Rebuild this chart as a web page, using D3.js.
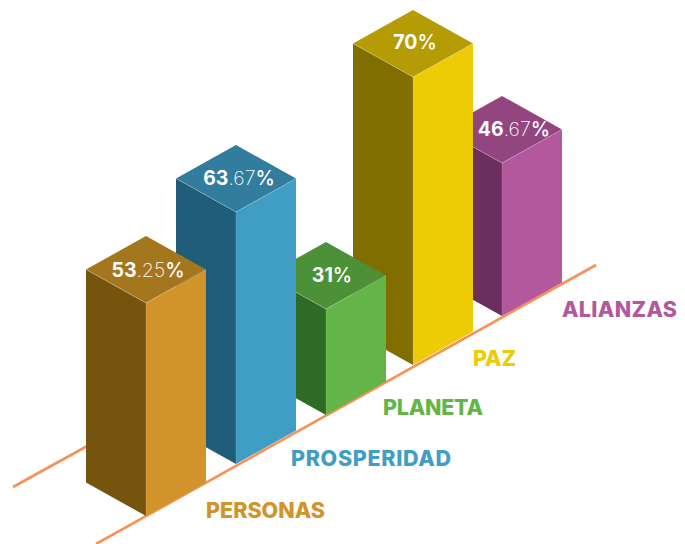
<!DOCTYPE html>
<html>
<head>
<meta charset="utf-8">
<script src="https://cdn.jsdelivr.net/npm/d3@7"></script>
<style>
  html, body { margin: 0; padding: 0; background: #fff; }
  svg { display: block; }
  text { font-family: Inter, sans-serif; }
</style>
</head>
<body>
<svg id="chart"></svg>
<script>
const categories = ["PERSONAS", "PROSPERIDAD", "PLANETA", "PAZ", "ALIANZAS"];
const values = [53.25, 63.67, 31, 70, 46.67];
const topColors = ["#a4761e", "#327c9e", "#4c9038", "#b59c05", "#93457f"];
const leftColors = ["#75540e", "#205d78", "#2e6b25", "#806e00", "#6b2e5e"];
const rightColors = ["#d1942b", "#409dc4", "#64b548", "#edcb07", "#b3589c"];

const width = 685, height = 544;
const halfW = 60, halfD = 33.5;

const svg = d3.select("#chart").attr("width", width).attr("height", height);

// the bars in the picture are not strictly proportional, so the scale is piecewise
const barHeight = d3.scaleLinear()
    .domain([31, 46.67, 53.25, 63.67, 70])
    .range([106, 153, 213, 252, 288]);
const cornerX = d3.scaleOrdinal(categories, [146, 236, 326, 413, 502]);
const cornerY = d3.scaleOrdinal(categories, [516, 464, 415, 365, 316]);
const labelX = d3.scaleOrdinal(categories, [206, 291, 383, 473, 562]);
const labelY = d3.scaleOrdinal(categories, [518, 466, 415, 366, 317]);
const labelW = d3.scaleOrdinal(categories, [119, 160, 100, 43, 115]);
const valueX = d3.scaleOrdinal(categories, [148, 239, 332, 415, 514]);
const valueY = d3.scaleOrdinal(categories, [277, 185, 282, 49, 136]);

const bars = categories.map((name, i) => ({
    name,
    value: values[i],
    top: topColors[i],
    left: leftColors[i],
    right: rightColors[i],
    x: cornerX(name),
    y: cornerY(name),
    h: barHeight(values[i])
}));

// Floor lines
const line = d3.line();
svg.selectAll(".floor")
    .data([[[13, 487], [176, 397]], [[96, 544], [596, 265]]])
    .enter()
    .append("path")
    .attr("class", "floor")
    .attr("d", d => line(d))
    .attr("fill", "none")
    .attr("stroke", "#f79158")
    .attr("stroke-width", 2.6);

const poly = pts => pts.map(p => p.join(",")).join(" ");

// Bars, back to front
const bar = svg.selectAll(".bar")
    .data(bars.slice().reverse())
    .enter()
    .append("g")
    .attr("class", "bar");

bar.append("polygon")
    .attr("points", d => poly([[d.x - halfW, d.y - halfD], [d.x, d.y], [d.x, d.y - d.h], [d.x - halfW, d.y - d.h - halfD]]))
    .attr("fill", d => d.left);

bar.append("polygon")
    .attr("points", d => poly([[d.x + halfW, d.y - halfD], [d.x, d.y], [d.x, d.y - d.h], [d.x + halfW, d.y - d.h - halfD]]))
    .attr("fill", d => d.right);

bar.append("polygon")
    .attr("points", d => poly([[d.x, d.y - d.h], [d.x + halfW, d.y - d.h - halfD], [d.x, d.y - d.h - 2 * halfD], [d.x - halfW, d.y - d.h - halfD]]))
    .attr("fill", d => d.top);

// Thin light edges around the top face
bar.append("path")
    .attr("d", d => line([[d.x - halfW, d.y - d.h - halfD], [d.x, d.y - d.h], [d.x + halfW, d.y - d.h - halfD]]))
    .attr("fill", "none")
    .attr("stroke", "rgba(255,255,255,0.35)")
    .attr("stroke-width", 0.7);

bar.append("path")
    .attr("d", d => line([[d.x, d.y - d.h], [d.x, d.y]]))
    .attr("fill", "none")
    .attr("stroke", "rgba(255,255,255,0.2)")
    .attr("stroke-width", 0.7);

// Value on the top face: whole part bold, decimals thin
// drawn after all bars, the 46.67 label sits right up against the PAZ bar
const valueText = svg.selectAll(".value")
    .data(bars)
    .enter()
    .append("text")
    .attr("class", "value")
    .attr("x", d => valueX(d.name))
    .attr("y", d => valueY(d.name))
    .attr("text-anchor", "middle")
    .attr("fill", "#fff")
    .attr("font-size", 19.5);

valueText.append("tspan")
    .attr("font-weight", 700)
    .text(d => String(d.value).split(".")[0]);

valueText.append("tspan")
    .attr("font-weight", 200)
    .text(d => String(d.value).includes(".") ? "." + String(d.value).split(".")[1] : "");

valueText.append("tspan")
    .attr("font-weight", 500)
    .text("%");

// Category names
svg.selectAll(".name")
    .data(bars)
    .enter()
    .append("text")
    .attr("class", "name")
    .attr("x", d => labelX(d.name))
    .attr("y", d => labelY(d.name))
    .attr("textLength", d => labelW(d.name))
    .attr("fill", d => d.right)
    .attr("font-size", 21.5)
    .attr("font-weight", 800)
    .text(d => d.name);
</script>
</body>
</html>
